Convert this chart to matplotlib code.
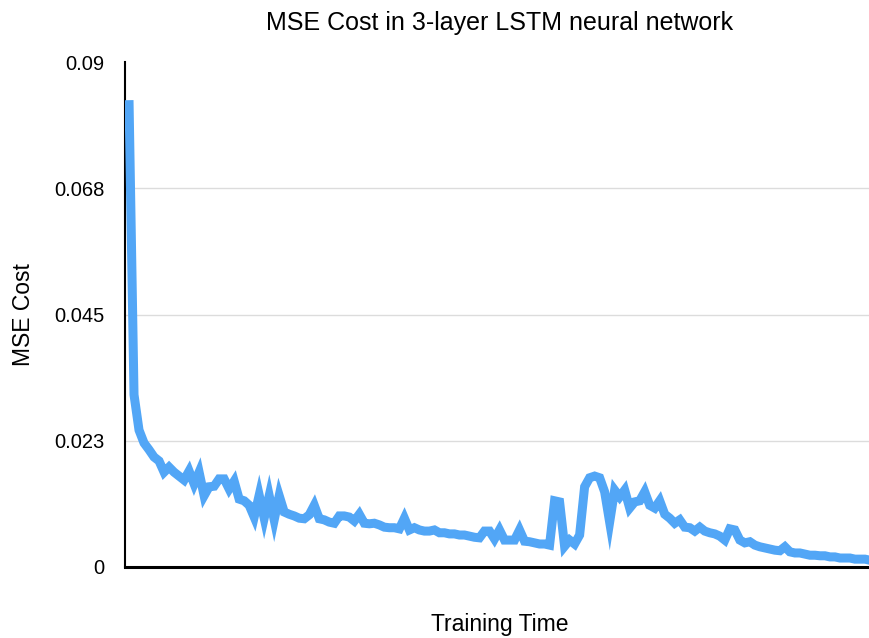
import matplotlib
matplotlib.use("Agg")
import matplotlib.pyplot as plt
import numpy as np

plt.rcParams['font.family'] = ['Liberation Sans', 'DejaVu Sans']

# MSE cost, one value per training step
cost = [
	0.0832, 0.0307, 0.0244, 0.0221, 0.0209, 0.0196, 0.0189, 0.0169, 0.0178, 0.0169,
	0.0162, 0.0155, 0.0171, 0.0148, 0.0169, 0.0127, 0.0143, 0.0144, 0.0157, 0.0157,
	0.0139, 0.0153, 0.0121, 0.0118, 0.0110, 0.0089, 0.0128, 0.0087, 0.0127, 0.0084,
	0.0127, 0.0098, 0.0094, 0.0091, 0.0087, 0.0086, 0.0093, 0.0110, 0.0086, 0.0084,
	0.0080, 0.0078, 0.0091, 0.0091, 0.0089, 0.0082, 0.0094, 0.0078, 0.0077, 0.0078,
	0.0075, 0.0071, 0.0070, 0.0070, 0.0068, 0.0087, 0.0066, 0.0070, 0.0066, 0.0064,
	0.0064, 0.0066, 0.0061, 0.0061, 0.0059, 0.0059, 0.0057, 0.0057, 0.0055, 0.0053,
	0.0052, 0.0064, 0.0064, 0.0050, 0.0066, 0.0048, 0.0048, 0.0048, 0.0066, 0.0046,
	0.0045, 0.0043, 0.0041, 0.0041, 0.0039, 0.0118, 0.0116, 0.0037, 0.0048, 0.0041,
	0.0057, 0.0143, 0.0159, 0.0162, 0.0159, 0.0134, 0.0080, 0.0137, 0.0125, 0.0137,
	0.0105, 0.0116, 0.0118, 0.0134, 0.0110, 0.0105, 0.0118, 0.0094, 0.0087, 0.0078,
	0.0084, 0.0071, 0.0070, 0.0064, 0.0071, 0.0064, 0.0061, 0.0059, 0.0055, 0.0048,
	0.0068, 0.0066, 0.0048, 0.0043, 0.0045, 0.0039, 0.0036, 0.0034, 0.0032, 0.0030,
	0.0029, 0.0036, 0.0027, 0.0025, 0.0025, 0.0023, 0.0021, 0.0021, 0.0020, 0.0020,
	0.0018, 0.0018, 0.0016, 0.0016, 0.0016, 0.0014, 0.0014, 0.0014, 0.0012,
]
yticks = [0, 0.0225, 0.045, 0.0675, 0.09]
yticklabels = ["0", "0.023", "0.045", "0.068", "0.09"]

steps = np.arange(len(cost))

fig = plt.figure(figsize=(8.7, 6.38), dpi=100)
ax = fig.add_axes([125/870, 1 - 567/638, 745/870, 505/638])

ax.plot(steps, cost, color="#52a6f6", linewidth=6.5,
	solid_joinstyle="miter", solid_capstyle="butt", zorder=3)

ax.set_xlim(-0.8, len(cost) - 1)
ax.set_ylim(0, 0.09)
ax.set_xticks([])
ax.set_yticks(yticks)
ax.set_yticklabels(yticklabels, fontsize=14.5)
ax.tick_params(axis="y", length=0, pad=15)

# light horizontal grid, no line at the top
for t in yticks[1:-1]:
	ax.axhline(t, color="#dcdcdc", linewidth=1, zorder=1)

for side in ["top", "right"]:
	ax.spines[side].set_visible(False)
ax.spines["left"].set_linewidth(1.5)
ax.spines["bottom"].set_linewidth(2.2)

ax.set_ylabel("MSE Cost", fontsize=16.5, va="center")
ax.yaxis.set_label_coords(-0.1356, 0.5)
ax.set_xlabel("Training Time", fontsize=16.5, va="center")
ax.xaxis.set_label_coords(0.503, -0.113)

fig.text(500/870, 1 - 23/638, "MSE Cost in 3-layer LSTM neural network",
	fontsize=18, ha="center", va="center")

fig.savefig("out.png", dpi=100)
